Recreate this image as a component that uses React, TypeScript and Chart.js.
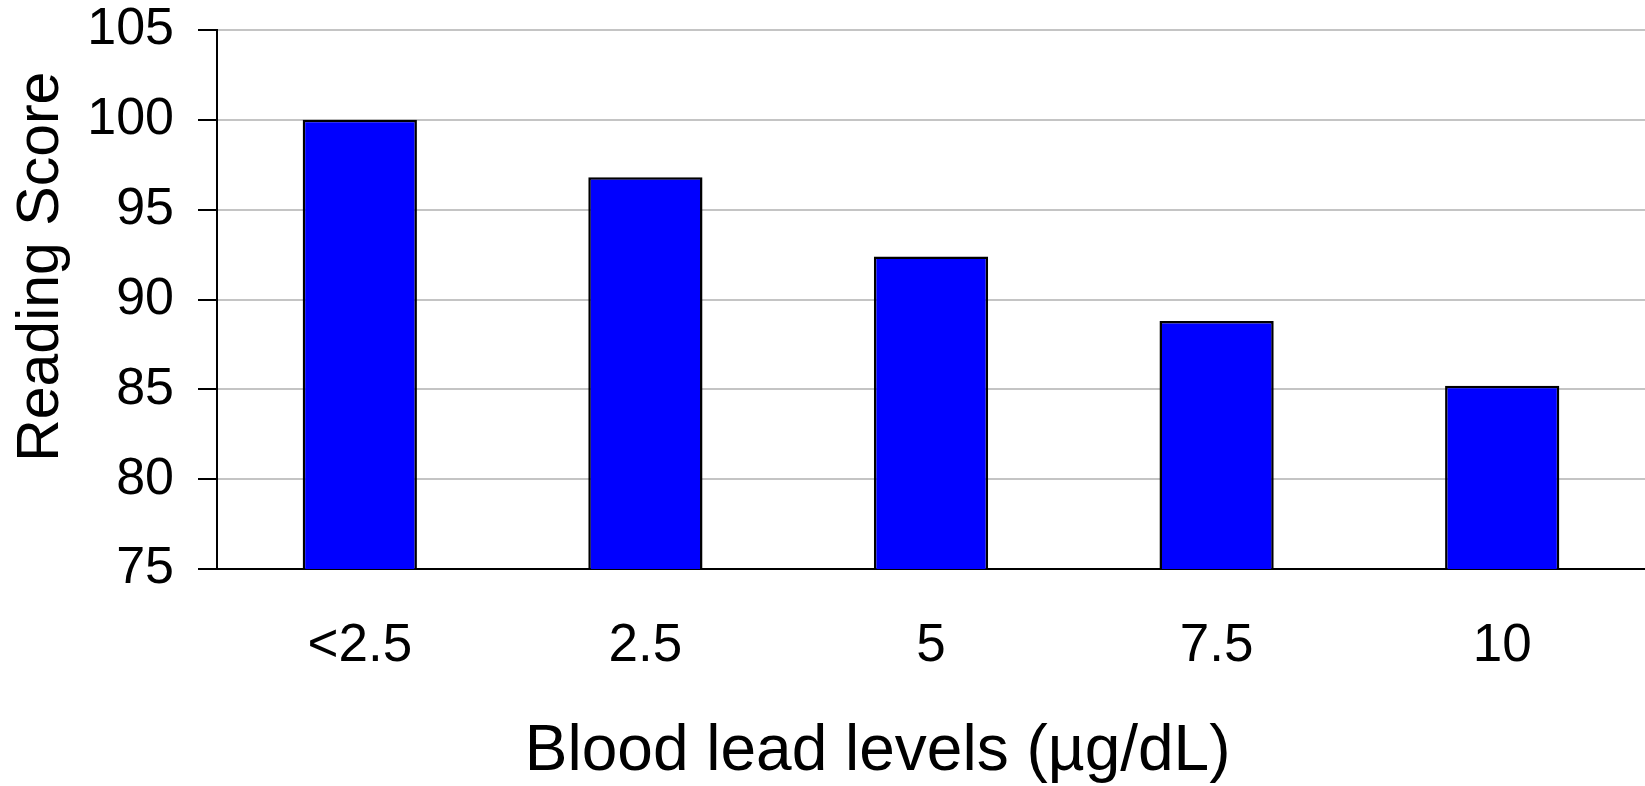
import { useEffect, useRef } from "react";
import { Chart, registerables } from "chart.js";

Chart.register(...registerables);

const leadLevels = ["<2.5", "2.5", "5", "7.5", "10"];
const readingScores = [100, 96.8, 92.4, 88.8, 85.2];
const yMin = 75;
const yMax = 105;
const yStep = 5;

const FONT = "'Liberation Sans', Arial, sans-serif";

export default function App() {
  const chartRef = useRef<HTMLCanvasElement>(null);
  const chartInstance = useRef<Chart | null>(null);

  useEffect(() => {
    if (!chartRef.current) return;
    if (chartInstance.current) {
      chartInstance.current.destroy();
    }
    const ctx = chartRef.current.getContext("2d");
    if (!ctx) return;

    chartInstance.current = new Chart(ctx, {
      type: "bar",
      data: {
        labels: leadLevels,
        datasets: [
          {
            label: "Reading Score",
            data: readingScores,
            backgroundColor: "#0000ff",
            borderColor: "#000000",
            borderWidth: 2.5,
            borderSkipped: false,
            categoryPercentage: 1,
            barPercentage: 0.4,
          },
        ],
      },
      options: {
        responsive: false,
        animation: false,
        layout: { padding: { top: 30, right: 0, left: 0, bottom: 0 } },
        plugins: {
          legend: { display: false },
          tooltip: { enabled: false },
        },
        scales: {
          x: {
            grid: { display: false, drawTicks: false },
            border: { display: true, color: "#000000", width: 2 },
            ticks: {
              color: "#000000",
              font: { family: FONT, size: 53 },
              padding: 46,
            },
            title: {
              display: true,
              // trailing spaces shift the centred title left, as in the original
              text: "Blood lead levels (µg/dL)      ",
              color: "#000000",
              font: { family: FONT, size: 64 },
              padding: { top: 22, bottom: -5 },
            },
            afterFit: (scale) => {
              scale.height = 217;
            },
          },
          y: {
            min: yMin,
            max: yMax,
            ticks: {
              stepSize: yStep,
              color: "#000000",
              font: { family: FONT, size: 52 },
              padding: 24,
            },
            grid: {
              color: "#c4c4c4",
              lineWidth: 2,
              tickColor: "#000000",
              tickLength: 19,
            },
            border: { display: true, color: "#000000", width: 2 },
            title: {
              display: true,
              // leading spaces push the rotated title upward
              text: "    Reading Score",
              color: "#000000",
              font: { family: FONT, size: 59 },
              padding: { top: 6, bottom: 0 },
            },
            afterFit: (scale) => {
              scale.width = 217;
              scale.paddingTop = 0;
              scale.paddingBottom = 0;
            },
          },
        },
      },
    });

    return () => {
      if (chartInstance.current) {
        chartInstance.current.destroy();
        chartInstance.current = null;
      }
    };
  }, []);

  return (
    <div
      style={{
        position: "fixed",
        left: 0,
        top: 0,
        width: 1645,
        height: 786,
        background: "#ffffff",
      }}
    >
      <canvas ref={chartRef} width={1645} height={786} />
    </div>
  );
}
